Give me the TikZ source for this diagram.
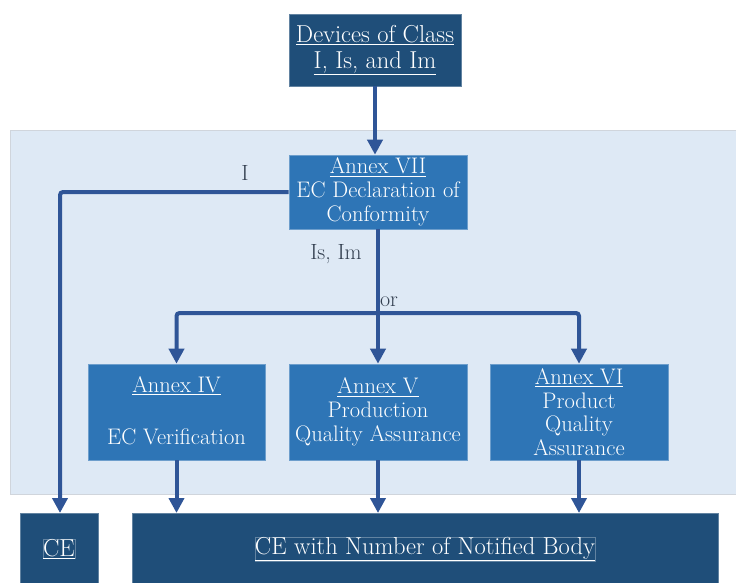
\documentclass[tikz,border=0pt]{standalone}
\usetikzlibrary{arrows.meta}
\definecolor{darkbox}{HTML}{1F4E79}
\definecolor{midbox}{HTML}{2E75B6}
\definecolor{panel}{HTML}{DEE9F5}
\definecolor{panelline}{HTML}{D0D5DC}
\definecolor{flow}{HTML}{2F5597}
\definecolor{lbl}{HTML}{333F50}
\tikzset{
  darkbox/.style={fill=darkbox, draw=darkbox!70!white, line width=0.6pt, text=white, inner sep=0pt, align=center, font=\fontsize{24.5}{26}\selectfont},
  annexbox/.style={fill=midbox, draw=midbox!70!white, line width=0.6pt, text=white, inner sep=0pt, align=center, font=\fontsize{22.5}{23.7}\selectfont},
  flowline/.style={draw=flow, line width=4pt, rounded corners=3pt},
  flowarrow/.style={flowline, -{Triangle[length=15pt,width=15pt]}},
  lbltext/.style={text=lbl, font=\fontsize{22}{24}\selectfont, inner sep=0pt}
}
\newcommand{\ul}[1]{\underline{#1}}
\begin{document}
\begin{tikzpicture}[x=1pt,y=-1pt]
\useasboundingbox (0,0) rectangle (736,583);
\fill[white] (0,0) rectangle (736,583);
% shaded region holding the annex procedures
\filldraw[fill=panel, draw=panelline, line width=1pt] (10,131) rectangle (740,494);

% boxes
\node[darkbox, minimum width=172pt, minimum height=72pt] (dev) at (375,50) {\ul{Devices of Class}\\\ul{I, Is, and Im}};
\node[annexbox, minimum width=178pt, minimum height=74pt] (a7) at (378,192) {\ul{Annex VII}\\EC Declaration of\\Conformity};
\node[annexbox, minimum width=177pt, minimum height=96pt] (a4) at (176.5,412) {};
\node[lbltext, text=white, font=\fontsize{22.5}{24}\selectfont] (a4t) at (176.5,386) {\ul{Annex IV}};
\node[lbltext, text=white, font=\fontsize{22.5}{24}\selectfont] (a4b) at (176.5,437) {EC Verification};
\node[annexbox, minimum width=178pt, minimum height=96pt] (a5) at (378,412) {\ul{Annex V}\\Production\\Quality Assurance};
\node[annexbox, minimum width=178pt, minimum height=96pt] (a6) at (579,412) {\ul{Annex VI}\\Product\\Quality\\Assurance};
\node[darkbox, minimum width=78pt, minimum height=74pt, anchor=north west] (ce) at (20,513) {};
\node[darkbox] (cet) at (59,549) {\ul{CE}};
\node[darkbox, minimum width=586pt, minimum height=74pt, anchor=north west] (ceb) at (132,513) {};
\node[darkbox] (cebt) at (425,549) {\ul{CE with Number of Notified Body}};

% connectors
\coordinate (split) at (378,313);
\draw[flowarrow] (dev.south) -- (dev.south |- a7.north);
\draw[flowarrow] (a7.west) -| (ce.north -| 60,0);
\draw[flowarrow] (a7.south) -- (a5.north);
\draw[flowarrow] (split) -| (a4.north);
\draw[flowarrow] (split) -| (a6.north);
\draw[flowarrow] (a4.south) -- (a4.south |- ceb.north);
\draw[flowarrow] (a5.south) -- (a5.south |- ceb.north);
\draw[flowarrow] (a6.south) -- (a6.south |- ceb.north);

% branch labels
\node[lbltext] (lI) at (245,173) {I};
\node[lbltext] (lIs) at (336,254) {Is, Im};
\node[lbltext] (lor) at (389,302) {or};
\end{tikzpicture}
\end{document}
